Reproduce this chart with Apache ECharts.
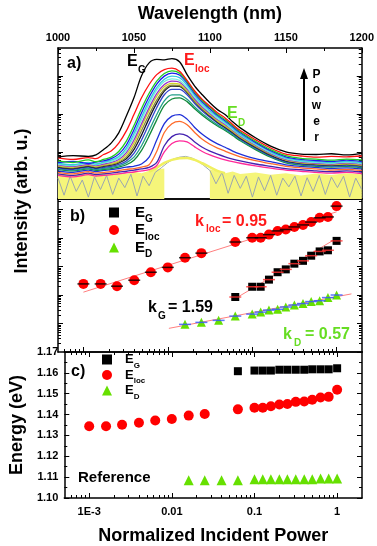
<!DOCTYPE html>
<html>
<head>
<meta charset="utf-8">
<script src="https://cdn.jsdelivr.net/npm/echarts@6/dist/echarts.min.js"></script>
<style>html,body{margin:0;padding:0;background:#fff}#chart{width:377px;height:546px}</style>
</head>
<body>
<div id="chart"></div>
<script>
// ---------- panel a: spectra, log intensity in decades above the panel floor ----------
const wavelength = [1000,1010,1020,1025,1030,1035,1040,1045,1050,1055,1060,1065,1070,1075,1080,1085,1090,1095,1100,1105,1110,1115,1120,1130,1140,1150,1160,1170,1180,1190,1200];
const specBlack = [1.11,1.14,1.12,1.16,1.30,1.47,1.74,2.18,2.66,3.24,3.58,3.67,3.66,3.69,3.61,3.27,2.97,2.74,2.53,2.35,2.22,2.03,1.87,1.61,1.39,1.24,1.18,1.17,1.19,1.16,1.20];
const specRed = [1.08,1.04,1.09,1.06,1.17,1.26,1.47,1.79,2.22,2.66,3.01,3.27,3.40,3.44,3.36,3.12,2.84,2.62,2.44,2.27,2.13,1.96,1.80,1.56,1.34,1.18,1.13,1.10,1.12,1.11,1.13];
const specGreen = [1.00,0.96,1.03,0.98,1.04,1.10,1.25,1.52,1.93,2.38,2.78,3.10,3.30,3.37,3.31,3.09,2.81,2.59,2.41,2.23,2.09,1.93,1.77,1.52,1.30,1.14,1.07,1.05,1.02,1.05,1.03];
const specBlue = [0.96,0.99,0.93,0.97,1.00,1.06,1.18,1.42,1.82,2.27,2.68,3.02,3.23,3.31,3.26,3.05,2.77,2.55,2.37,2.20,2.06,1.90,1.74,1.49,1.27,1.11,1.04,1.01,0.99,1.02,0.98];
const specTurquoise = [0.94,0.90,0.96,0.92,0.97,1.02,1.12,1.34,1.72,2.16,2.58,2.93,3.15,3.23,3.19,2.99,2.72,2.50,2.32,2.16,2.02,1.86,1.70,1.46,1.24,1.08,1.01,0.98,0.96,0.99,0.95];
const specAqua = [0.92,0.88,0.94,0.90,0.95,0.99,1.08,1.28,1.64,2.08,2.50,2.86,3.09,3.16,3.12,2.93,2.67,2.46,2.28,2.12,1.99,1.83,1.68,1.44,1.22,1.06,0.99,0.96,0.94,0.97,0.93];
const specPurple = [0.90,0.86,0.91,0.88,0.92,0.96,1.04,1.22,1.55,1.98,2.40,2.77,3.01,3.10,3.07,2.89,2.63,2.42,2.25,2.09,1.96,1.81,1.66,1.42,1.20,1.04,0.97,0.94,0.92,0.95,0.91];
const specYellowGreen = [0.88,0.84,0.90,0.86,0.90,0.93,1.00,1.16,1.47,1.90,2.33,2.70,2.95,3.04,3.02,2.85,2.60,2.39,2.22,2.06,1.93,1.79,1.64,1.40,1.19,1.03,0.96,0.93,0.91,0.93,0.90];
const specOlive = [0.86,0.82,0.88,0.84,0.88,0.91,0.97,1.10,1.38,1.80,2.22,2.60,2.88,2.99,2.98,2.82,2.57,2.37,2.20,2.04,1.91,1.77,1.62,1.38,1.17,1.02,0.95,0.92,0.90,0.92,0.88];
const specDark = [0.84,0.80,0.86,0.82,0.86,0.89,0.95,1.06,1.30,1.68,2.12,2.52,2.84,2.97,2.96,2.80,2.56,2.35,2.18,2.02,1.89,1.75,1.60,1.36,1.15,1.00,0.94,0.91,0.89,0.91,0.87];
const specRoyal = [0.82,0.78,0.84,0.80,0.83,0.86,0.91,1.00,1.20,1.55,1.98,2.40,2.74,2.88,2.88,2.74,2.51,2.31,2.15,2.00,1.87,1.73,1.58,1.34,1.13,0.98,0.92,0.89,0.87,0.89,0.85];
const specTeal = [0.80,0.76,0.81,0.78,0.80,0.83,0.87,0.95,1.10,1.40,1.80,2.22,2.58,2.74,2.74,2.62,2.42,2.24,2.09,1.95,1.83,1.70,1.55,1.32,1.12,0.97,0.91,0.88,0.86,0.88,0.84];
const specDarkGreen = [0.78,0.74,0.79,0.75,0.78,0.80,0.84,0.90,1.02,1.28,1.66,2.08,2.46,2.63,2.66,2.56,2.37,2.20,2.05,1.92,1.80,1.67,1.53,1.30,1.10,0.95,0.89,0.86,0.84,0.86,0.82];
const specBlue2 = [0.74,0.70,0.76,0.72,0.75,0.77,0.80,0.84,0.86,0.92,1.10,1.55,1.98,2.18,2.22,2.10,1.88,1.70,1.56,1.45,1.36,1.26,1.18,1.06,0.98,0.90,0.86,0.83,0.80,0.82,0.79];
const specOrange = [0.70,0.66,0.72,0.68,0.70,0.72,0.75,0.78,0.80,0.84,0.90,1.25,1.75,1.98,2.04,1.95,1.75,1.57,1.44,1.34,1.26,1.18,1.11,1.01,0.93,0.86,0.82,0.79,0.76,0.78,0.75];
const specViolet = [0.66,0.62,0.68,0.64,0.66,0.68,0.71,0.73,0.76,0.79,0.83,0.96,1.40,1.64,1.71,1.66,1.50,1.36,1.26,1.18,1.11,1.05,1.00,0.92,0.86,0.80,0.77,0.74,0.72,0.74,0.71];
const specMagenta = [0.62,0.58,0.64,0.60,0.62,0.64,0.66,0.69,0.71,0.74,0.77,0.88,1.24,1.46,1.53,1.50,1.37,1.25,1.16,1.09,1.03,0.98,0.94,0.87,0.81,0.76,0.73,0.70,0.68,0.70,0.67];
const yellowFloor = [0.68,0.62,0.70,0.64,0.69,0.63,0.70,0.66,0.72,0.68,0.74,0.78,0.80,null,null,null,null,null,0.78,0.72,0.68,0.72,0.66,0.70,0.64,0.68,0.62,0.67,0.63,0.68,0.65];
const yellowWl = [1060,1065,1070,1075,1080,1085,1090,1095,1100,1105,1110];
const yellowVal = [0.72,0.82,0.95,1.03,1.07,1.08,1.03,0.94,0.84,0.74,0.68];
const grayWl = [1000,1004,1008,1012,1016,1020,1024,1028,1032,1036,1040,1044,1048,1052,1056,1060,1064,1068,1072,1076,1080,1084,1088,1092,1096,1100,1104,1108,1112,1116,1120,1124,1128,1132,1136,1140,1144,1148,1152,1156,1160,1164,1168,1172,1176,1180,1184,1188,1192,1196,1200];
const grayVal = [0.55,0.10,0.60,0.20,0.50,0.05,0.58,0.25,0.62,0.12,0.55,0.30,0.65,0.08,0.60,0.35,0.70,0.82,0.95,1.05,1.10,1.12,1.08,1.00,0.88,0.75,0.40,0.70,0.15,0.62,0.28,0.60,0.05,0.58,0.22,0.62,0.10,0.55,0.32,0.60,0.08,0.56,0.20,0.62,0.12,0.58,0.30,0.60,0.05,0.55,0.25];

// ---------- panels b and c ----------
const powerAll = [0.001,0.0016,0.0025,0.004,0.0063,0.01,0.016,0.025,0.063,0.1,0.126,0.158,0.2,0.25,0.316,0.4,0.5,0.63,0.79,1];
const powerG = [0.063,0.1,0.126,0.158,0.2,0.25,0.316,0.4,0.5,0.63,0.79,1];
const powerD = [0.016,0.025,0.04,0.063,0.1,0.126,0.158,0.2,0.25,0.316,0.4,0.5,0.63,0.79,1];
// log10 intensity (decades)
const intLoc = [2.39,2.39,2.31,2.52,2.80,2.97,3.31,3.47,3.86,4.01,4.01,4.12,4.25,4.30,4.39,4.46,4.56,4.71,4.74,5.12];
const intG = [1.93,2.29,2.29,2.54,2.80,2.90,3.10,3.20,3.38,3.53,3.57,3.90];
const intD = [0.97,1.04,1.11,1.26,1.33,1.40,1.47,1.50,1.58,1.65,1.70,1.77,1.80,1.91,2.00];
const fitLocP = [0.001, 1], fitLocI = [2.10, 4.92];
const fitGP = [0.0594, 1], fitGI = [1.83, 3.99];
const fitDP = [0.0103, 1.5], fitDI = [0.83, 2.04];
// energy (eV)
const energyG = [1.1608,1.1611,1.1611,1.1611,1.1615,1.1615,1.1615,1.1615,1.1617,1.1617,1.1617,1.1622];
const energyLoc = [1.1344,1.1344,1.1351,1.1361,1.1372,1.1379,1.1395,1.1403,1.1425,1.1433,1.1433,1.1440,1.1448,1.1451,1.1461,1.1463,1.1471,1.1482,1.1485,1.1519];
const energyD = [1.1085,1.1085,1.1085,1.1085,1.1090,1.1090,1.1090,1.1090,1.1090,1.1090,1.1090,1.1090,1.1093,1.1093,1.1093];
const powerTickValues = [0.001, 0.01, 0.1, 1];
const powerTickLabels = ['1E-3', '0.01', '0.1', '1'];

const FONT = "'Liberation Sans', Arial, sans-serif";
const X_MIN = Math.log10(5e-4), X_MAX = Math.log10(2);
const A_MAX = 3.97, B_MAX = 5.37;

function logMinor(lo, hi, offset) {
  const out = [];
  for (let n = Math.floor(lo) - 1; n <= Math.ceil(hi); n++) {
    for (let k = 2; k <= 9; k++) {
      const v = n + offset + Math.log10(k);
      if (v > lo + 0.01 && v < hi - 0.01) out.push(v);
    }
  }
  return out;
}
const X_MAJOR = powerTickValues.map(Math.log10);
const X_MINOR = logMinor(X_MIN, X_MAX, 0);
const A_MAJOR = [0.24, 1.24, 2.24, 3.24];
const A_MINOR = logMinor(0, A_MAX, 0.24);
const B_MAJOR = [1, 2, 3, 4, 5];
const B_MINOR = logMinor(0, B_MAX, 0);

const LINE = {show: true, onZero: false, lineStyle: {color: '#000', width: 1.5}};
function ax(o) {
  return Object.assign({type: 'value', splitLine: {show: false}, axisLabel: {show: false},
    axisTick: {show: false}, axisLine: {show: false, onZero: false}}, o);
}
function ticks(values, len) {
  return {show: true, inside: true, length: len, customValues: values, lineStyle: {color: '#000', width: 1}};
}
const labelStyle = {show: true, color: '#000', fontSize: 11, fontWeight: 'bold', fontFamily: FONT};
const nameStyle = {color: '#000', fontSize: 18, fontWeight: 'bold', fontFamily: FONT};

const xAxis = [
  ax({gridIndex: 0, position: 'top', min: 1000, max: 1200, interval: 50, axisLine: LINE,
      axisTick: {show: true, inside: true, length: 5, lineStyle: {color: '#000'}},
      minorTick: {show: true, splitNumber: 2, length: 3, lineStyle: {color: '#000'}},
      axisLabel: Object.assign({margin: 5, formatter: v => String(v)}, labelStyle),
      name: 'Wavelength (nm)', nameLocation: 'middle', nameGap: 25, nameTextStyle: nameStyle}),
  ax({gridIndex: 0, position: 'bottom', min: 1000, max: 1200, axisLine: LINE}),
  ax({gridIndex: 1, position: 'bottom', min: X_MIN, max: X_MAX, axisLine: LINE, axisTick: ticks(X_MAJOR, 5)}),
  ax({gridIndex: 1, position: 'bottom', min: X_MIN, max: X_MAX, axisTick: ticks(X_MINOR, 3)}),
  ax({gridIndex: 1, position: 'top', min: X_MIN, max: X_MAX, axisLine: LINE}),
  ax({gridIndex: 2, position: 'bottom', min: X_MIN, max: X_MAX, axisLine: LINE, axisTick: ticks(X_MAJOR, 5),
      axisLabel: Object.assign({margin: 8, customValues: X_MAJOR,
        formatter: v => powerTickLabels[X_MAJOR.findIndex(t => Math.abs(t - v) < 1e-6)] || ''}, labelStyle),
      name: 'Normalized Incident Power', nameLocation: 'middle', nameGap: 29, nameTextStyle: nameStyle}),
  ax({gridIndex: 2, position: 'bottom', min: X_MIN, max: X_MAX, axisTick: ticks(X_MINOR, 3)}),
  ax({gridIndex: 2, position: 'top', min: X_MIN, max: X_MAX, axisLine: LINE, axisTick: ticks(X_MAJOR, 5)}),
  ax({gridIndex: 2, position: 'top', min: X_MIN, max: X_MAX, axisTick: ticks(X_MINOR, 3)})
];

const yAxis = [
  ax({gridIndex: 0, position: 'left', min: 0, max: A_MAX, axisLine: LINE, axisTick: ticks(A_MAJOR, 5)}),
  ax({gridIndex: 0, position: 'left', min: 0, max: A_MAX, axisTick: ticks(A_MINOR, 3)}),
  ax({gridIndex: 0, position: 'right', min: 0, max: A_MAX, axisLine: LINE, axisTick: ticks(A_MAJOR, 5)}),
  ax({gridIndex: 0, position: 'right', min: 0, max: A_MAX, axisTick: ticks(A_MINOR, 3)}),
  ax({gridIndex: 1, position: 'left', min: 0, max: B_MAX, axisLine: LINE, axisTick: ticks(B_MAJOR, 5)}),
  ax({gridIndex: 1, position: 'left', min: 0, max: B_MAX, axisTick: ticks(B_MINOR, 3)}),
  ax({gridIndex: 1, position: 'right', min: 0, max: B_MAX, axisLine: LINE, axisTick: ticks(B_MAJOR, 5)}),
  ax({gridIndex: 1, position: 'right', min: 0, max: B_MAX, axisTick: ticks(B_MINOR, 3)}),
  ax({gridIndex: 2, position: 'left', min: 1.10, max: 1.17, interval: 0.01, axisLine: LINE,
      axisTick: {show: true, inside: true, length: 5, lineStyle: {color: '#000'}},
      minorTick: {show: true, splitNumber: 2, length: 3, lineStyle: {color: '#000'}},
      axisLabel: Object.assign({margin: 6, formatter: v => v.toFixed(2)}, labelStyle),
      name: 'Energy (eV)', nameLocation: 'middle', nameGap: 27, nameTextStyle: nameStyle}),
  ax({gridIndex: 2, position: 'right', min: 1.10, max: 1.17, interval: 0.01, axisLine: LINE,
      axisTick: {show: true, inside: true, length: 5, lineStyle: {color: '#000'}},
      minorTick: {show: true, splitNumber: 2, length: 3, lineStyle: {color: '#000'}}})
];

// spectra drawn from the lowest to the highest
const spectra = [
  [specMagenta, '#ff2a9a'], [specViolet, '#4422b0'], [specOrange, '#ff6a2a'], [specBlue2, '#2030d8'],
  [specDarkGreen, '#138a3a'], [specTeal, '#22a088'], [specRoyal, '#3344cc'], [specDark, '#141428'],
  [specOlive, '#8a8a3a'], [specYellowGreen, '#d4d42a'], [specPurple, '#9a33cc'], [specAqua, '#77eedd'],
  [specTurquoise, '#33ccdd'], [specBlue, '#1a1aee'], [specGreen, '#22cc22'], [specRed, '#ff1010'],
  [specBlack, '#000000']
];
const pairs = (xs, ys, fx) => xs.map((x, i) => [fx ? fx(x) : x, ys[i]]);

const series = [
  {type: 'line', xAxisIndex: 0, yAxisIndex: 0, data: pairs(wavelength, yellowFloor), showSymbol: false,
   connectNulls: false, lineStyle: {width: 0}, areaStyle: {color: '#f5f57a', opacity: 1}, z: 1},
  {type: 'line', xAxisIndex: 0, yAxisIndex: 0, data: pairs(grayWl, grayVal), showSymbol: false,
   lineStyle: {width: 1, color: '#9aa6b0'}, z: 1},
  {type: 'line', xAxisIndex: 0, yAxisIndex: 0, data: pairs(yellowWl, yellowVal), showSymbol: false, smooth: 0.3,
   lineStyle: {width: 2.5, color: '#f0f060'}, z: 1}
];
spectra.forEach(([vals, color]) => series.push({
  type: 'line', xAxisIndex: 0, yAxisIndex: 0, data: pairs(wavelength, vals), showSymbol: false,
  smooth: 0.3, lineStyle: {width: 1.3, color: color}, z: 2
}));

// panel b fits, points and bars
const fitLine = (p, v) => ({type: 'line', xAxisIndex: 2, yAxisIndex: 4, data: pairs(p, v, Math.log10),
  showSymbol: false, lineStyle: {width: 1, color: '#ff7f7f'}, z: 3});
series.push(fitLine(fitLocP, fitLocI), fitLine(fitGP, fitGI), fitLine(fitDP, fitDI));
const mark = (name, xi, yi, p, v, symbol, size, color) => ({name: name, type: 'scatter', xAxisIndex: xi, yAxisIndex: yi,
  data: pairs(p, v, Math.log10), symbol: symbol, symbolSize: size, itemStyle: {color: color, opacity: 1}, z: 4});
const bar = (xi, yi, p, v, color) => ({name: 'bar', type: 'scatter', xAxisIndex: xi, yAxisIndex: yi,
  data: pairs(p, v, Math.log10), symbol: 'rect', symbolSize: [12, 1.5], itemStyle: {color: color}, z: 5});
series.push(
  mark('E_G', 2, 4, powerG, intG, 'rect', 8, '#000'),
  mark('E_loc', 2, 4, powerAll, intLoc, 'circle', 10, '#ff0000'),
  mark('E_D', 2, 4, powerD, intD, 'triangle', 9, '#66e000'),
  bar(2, 4, powerG, intG, '#ff3030'),
  bar(2, 4, powerAll, intLoc, '#000'),
  bar(2, 4, powerD, intD, '#3355ff'),
  mark('E_G', 5, 8, powerG, energyG, 'rect', 8, '#000'),
  mark('E_loc', 5, 8, powerAll, energyLoc, 'circle', 10, '#ff0000'),
  mark('E_D', 5, 8, powerD, energyD, 'triangle', 10, '#66e000')
);

function txt(x, y, s, size, color, extra) {
  return Object.assign({type: 'text', x: x, y: y, silent: true, z: 100,
    style: {text: s, font: 'bold ' + size + 'px ' + FONT, fill: color || '#000',
      textAlign: 'left', textVerticalAlign: 'middle', align: 'left', verticalAlign: 'middle'}}, extra || {});
}
const graphic = [
  txt(67, 63.5, 'a)', 16), txt(70, 217, 'b)', 16), txt(71, 372, 'c)', 16),
  txt(127, 62, 'E', 16), txt(138, 70.5, 'G', 10),
  txt(184, 60.5, 'E', 16, '#ff1a1a'), txt(195, 69, 'loc', 10, '#ff1a1a'),
  txt(227, 114, 'E', 16, '#66dd22'), txt(238, 123, 'D', 10, '#66dd22'),
  txt(195, 221.5, 'k', 16, '#ff1a1a'), txt(206, 229.5, 'loc', 10, '#ff1a1a'), txt(222, 221.5, '= 0.95', 16, '#ff1a1a'),
  txt(148, 308, 'k', 16), txt(158, 316.5, 'G', 10), txt(168, 308, '= 1.59', 16),
  txt(283, 335, 'k', 16, '#66dd22'), txt(294, 343.5, 'D', 10, '#66dd22'), txt(305, 335, '= 0.57', 16, '#66dd22'),
  txt(78, 478, 'Reference', 15),
  txt(22, 201, 'Intensity (arb. u.)', 18, '#000', {rotation: Math.PI / 2,
    style: {text: 'Intensity (arb. u.)', font: 'bold 18px ' + FONT, fill: '#000', textAlign: 'center',
      textVerticalAlign: 'middle', align: 'center', verticalAlign: 'middle'}})
];
['P', 'o', 'w', 'e', 'r'].forEach((c, i) => graphic.push(txt(316.5, [75, 90, 106, 122, 138][i], c, 12, '#000', {
  style: {text: c, font: 'bold 12px ' + FONT, fill: '#000', textAlign: 'center', textVerticalAlign: 'middle', align: 'center', verticalAlign: 'middle'}})));
graphic.push(
  {type: 'line', silent: true, z: 100, shape: {x1: 304, y1: 141, x2: 304, y2: 76}, style: {stroke: '#000', lineWidth: 2}},
  {type: 'polygon', silent: true, z: 100, shape: {points: [[304, 68], [300, 79], [308, 79]]}, style: {fill: '#000'}}
);

const legendFmt = name => { const [m, s] = name.split('_'); return '{m|' + m + '}{s|' + s + '}'; };
const rich = (big, small, pad, drop) => ({
  m: {fontSize: big, fontWeight: 'bold', fontFamily: FONT, color: '#000', padding: [0, 0, 0, pad]},
  s: {fontSize: small, fontWeight: 'bold', fontFamily: FONT, color: '#000', padding: [drop, 0, 0, 0]}
});

const chart = echarts.init(document.getElementById('chart'));
chart.setOption({
  animation: false,
  backgroundColor: '#fff',
  grid: [
    {left: 58, right: 15, top: 48, height: 151},
    {left: 58, right: 15, top: 199, height: 153},
    {left: 58, right: 15, top: 352, height: 149}
  ],
  legend: [
    {data: ['E_G', 'E_loc', 'E_D'], orient: 'vertical', left: 104, top: 200, itemWidth: 10, itemHeight: 10,
     itemGap: -2, selectedMode: false, formatter: legendFmt, textStyle: {rich: rich(15, 10, 11, 14)}},
    {data: ['E_G', 'E_loc', 'E_D'], orient: 'vertical', left: 97, top: 348, itemWidth: 10, itemHeight: 10,
     itemGap: -1, selectedMode: false, formatter: legendFmt, textStyle: {rich: rich(13, 8, 8, 12)}}
  ],
  xAxis: xAxis,
  yAxis: yAxis,
  series: series,
  graphic: graphic
});
</script>
</body>
</html>
